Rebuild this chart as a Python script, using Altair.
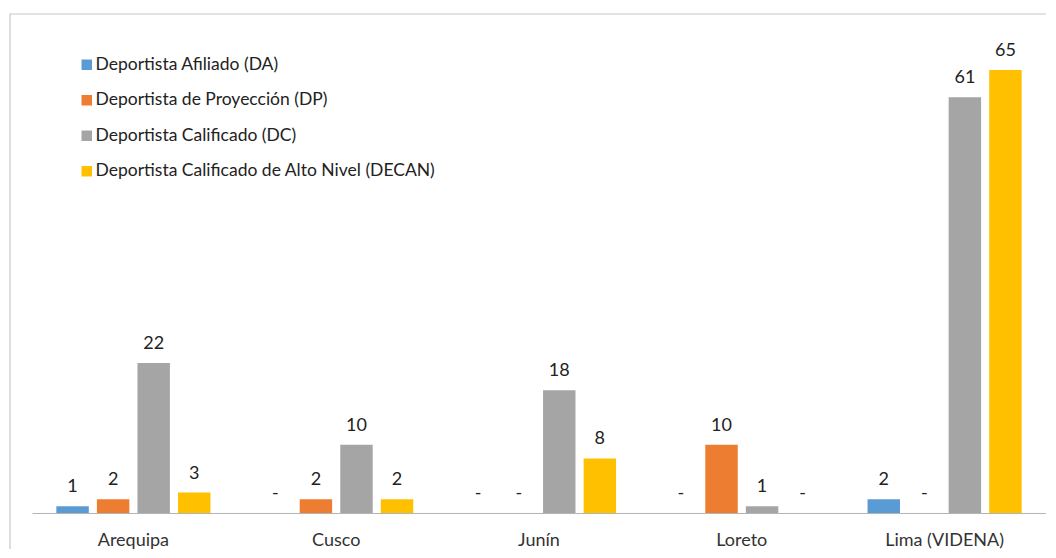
import altair as alt
import pandas as pd

categories = ["Arequipa", "Cusco", "Junín", "Loreto", "Lima (VIDENA)"]
series = [
    "Deportista Afiliado (DA)",
    "Deportista de Proyección (DP)",
    "Deportista Calificado (DC)",
    "Deportista Calificado de Alto Nivel (DECAN)",
]
colors = ["#5B9BD5", "#ED7D31", "#A5A5A5", "#FFC000"]
da = [1, 0, 0, 0, 2]
dp = [2, 2, 0, 10, 0]
dc = [22, 10, 18, 1, 61]
decan = [3, 2, 8, 0, 65]

rows = []
for s, vals in zip(series, [da, dp, dc, decan]):
    for c, v in zip(categories, vals):
        rows.append({"region": c, "serie": s, "valor": v})
df = pd.DataFrame(rows)

FONT = "Lato"
FS = 18

x = alt.X("region:N", sort=categories, title=None,
          scale=alt.Scale(paddingInner=0.2, paddingOuter=0.1),
          axis=alt.Axis(labelAngle=0, ticks=False, grid=False, domainColor="#b4b4b4",
                        labelFont=FONT, labelFontSize=FS, labelColor="#333333",
                        labelPadding=18))
xo = alt.XOffset("serie:N", sort=series,
                 scale=alt.Scale(paddingInner=0.2, paddingOuter=0.1))
y = alt.Y("valor:Q", scale=alt.Scale(domain=[0, 70]), axis=None)

base = alt.Chart(df).encode(x=x, xOffset=xo, y=y)

bars = base.mark_bar().encode(
    color=alt.Color("serie:N", sort=series,
                    scale=alt.Scale(domain=series, range=colors),
                    legend=alt.Legend(orient="none", legendX=46, legendY=20, title=None,
                                      symbolType="square", symbolSize=110,
                                      symbolStrokeWidth=0, labelFont=FONT,
                                      labelFontSize=17.5, labelColor="#222222",
                                      rowPadding=16.5, labelOffset=0, padding=0,
                                      labelLimit=600))
)

labels = base.mark_text(baseline="alphabetic", dy=-14, font=FONT, fontSize=FS,
                        color="#222222").transform_calculate(
    etiqueta="datum.valor == 0 ? '-' : format(datum.valor, 'd')"
).encode(text="etiqueta:N")

border = alt.Chart(pd.DataFrame({"k": [0]})).mark_rect(
    filled=False, stroke="#c8c8c8", strokeWidth=1.2
).encode(x=alt.value(-22), x2=alt.value(1100), y=alt.value(-22), y2=alt.value(700))

chart = alt.layer(border, bars, labels).properties(
    width=1014, height=477,
    autosize=alt.AutoSizeParams(type="none"),
    padding={"left": 24, "top": 28, "right": 0, "bottom": 36},
).configure_view(stroke=None)

chart.save("out.html", embed_options={"renderer": "svg", "actions": False})
